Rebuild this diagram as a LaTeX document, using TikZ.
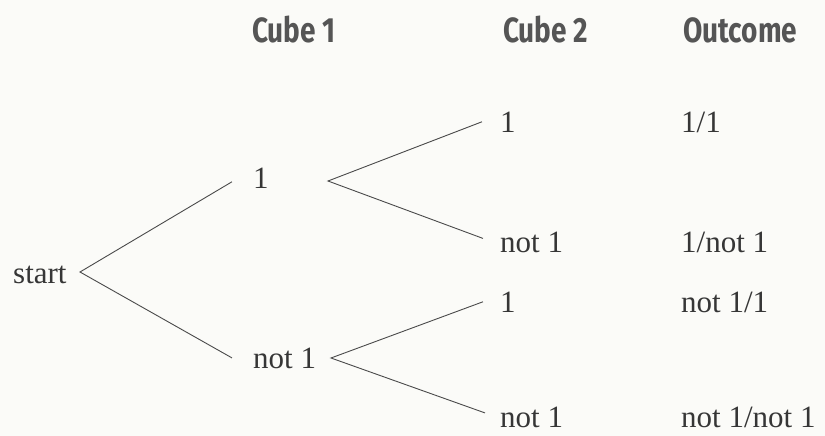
\documentclass[tikz,border=0pt]{standalone}
\usepackage{fontspec}
\setmainfont{Liberation Serif}
\newfontfamily\headfont[FakeStretch=0.8]{Fira Sans}

\definecolor{paper}{HTML}{FBFBF8}
\definecolor{ink}{HTML}{363636}
\definecolor{headink}{HTML}{555555}
\definecolor{branch}{HTML}{4A4A4A}

\tikzset{
  label/.style={anchor=base west, inner sep=0pt, text=ink, font=\fontsize{31}{36}\selectfont},
  head/.style={anchor=base west, inner sep=0pt, text=headink, font=\headfont\bfseries\fontsize{35}{40}\selectfont},
  branchline/.style={draw=branch, line width=0.9pt}
}

\begin{document}
\begin{tikzpicture}[x=1pt, y=-1pt]

  % Canvas
  \fill[paper] (0,0) rectangle (825,436);
  \useasboundingbox (0,0) rectangle (825,436);

  % Column headings
  \node[head] (hcube1) at (252,43) {Cube 1};
  \node[head] (hcube2) at (503,43) {Cube 2};
  \node[head] (hout) at (683,43) {Outcome};

  % Root and first cube
  \node[label] (start) at (13,283) {start};
  \node[label] (c1a) at (253,188) {1};
  \node[label] (c1b) at (253,368) {not 1};

  % Second cube
  \node[label] (c2a) at (500,132) {1};
  \node[label] (c2b) at (500,252) {not 1};
  \node[label] (c2c) at (500,312) {1};
  \node[label] (c2d) at (500,427) {not 1};

  % Outcomes
  \node[label] (oa) at (681,132) {1/1};
  \node[label] (ob) at (681,252) {1/not 1};
  \node[label] (oc) at (681,312) {not 1/1};
  \node[label] (od) at (681,427) {not 1/not 1};

  % Fork points
  \coordinate (fork0) at (80,272);
  \coordinate (fork1) at (328,181);
  \coordinate (fork2) at (331,358);

  % Branches
  \draw[branchline] ([xshift=-21pt,yshift=-4pt]c1a.west) -- (fork0) -- ([xshift=-21pt]c1b.west);
  \draw[branchline] ([xshift=-18pt]c2a.west) -- (fork1) -- ([xshift=-17pt,yshift=3.5pt]c2b.west);
  \draw[branchline] ([xshift=-17pt]c2c.west) -- (fork2) -- ([xshift=-15pt,yshift=4pt]c2d.west);

\end{tikzpicture}
\end{document}
